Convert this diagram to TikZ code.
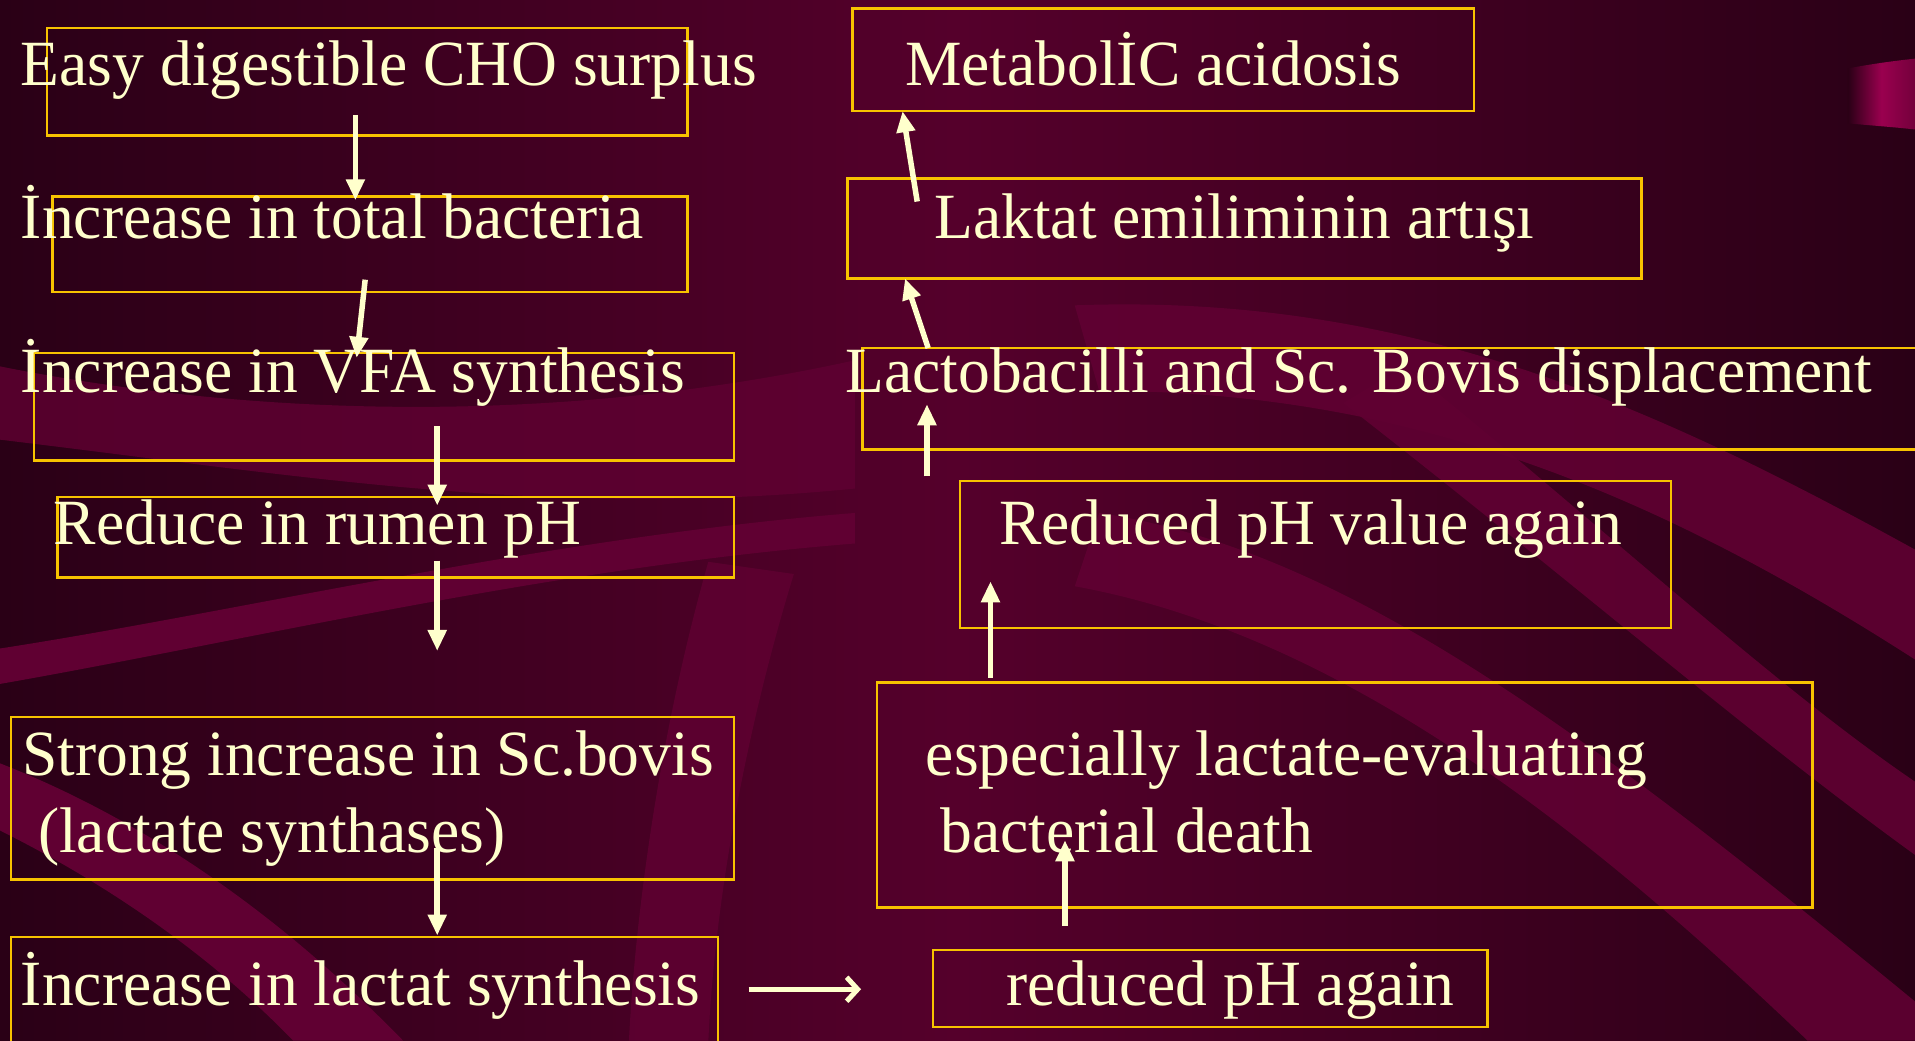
\documentclass[tikz,border=0pt]{standalone}
\usepackage{fontspec}
\setmainfont{Liberation Serif}[FakeStretch=0.985]
\usetikzlibrary{arrows.meta,fit}
\definecolor{bgdark}{HTML}{2A0016}
\definecolor{bgmid}{HTML}{55002B}
\definecolor{band}{HTML}{600032}
\definecolor{gold}{HTML}{F7C300}
\definecolor{cream}{HTML}{FFFFCC}
\definecolor{curl}{HTML}{9A004F}
\tikzset{
  box/.style={draw=gold, line width=2.5pt, inner sep=0pt},
  lbl/.style={text=cream, anchor=base west, inner sep=0pt, font=\fontsize{64.5}{77}\selectfont},
  arr/.style={draw=cream, line width=5.5pt, -{Triangle[length=21pt,width=18pt]}},
  barb/.style={draw=cream, line width=5.5pt, -{Straight Barb[length=11pt,width=24pt,line width=5pt]}},
  bandfill/.style={fill=band},
}
\begin{document}
\begin{tikzpicture}[x=1.2213pt,y=-1.2213pt]
\useasboundingbox (0,0) rectangle (1568,852);
% background
\shade[left color=bgdark, right color=bgdark, middle color=bgmid] (0,0) rectangle (1568,852);
\fill[bandfill, opacity=0.8] (0,300) .. controls (200,340) and (450,350) .. (700,295) -- (700,400) .. controls (450,425) and (250,390) .. (0,360) -- cycle;
\fill[bandfill] (0,531) .. controls (200,500) and (450,440) .. (700,420) -- (700,445) .. controls (450,465) and (200,525) .. (0,560) -- cycle;
\fill[bandfill] (0,680) .. controls (100,730) and (180,790) .. (240,852) -- (330,852) .. controls (250,770) and (140,680) .. (0,625) -- cycle;
\fill[bandfill, opacity=0.8] (580,460) .. controls (540,600) and (520,750) .. (515,852) -- (580,852) .. controls (585,740) and (610,600) .. (650,470) -- cycle;
\fill[bandfill, opacity=0.9] (880,250) .. controls (1150,240) and (1350,330) .. (1568,450) -- (1568,540) .. controls (1350,400) and (1150,320) .. (900,320) -- cycle;
\fill[bandfill, opacity=0.9] (900,420) .. controls (1100,450) and (1300,600) .. (1568,820) -- (1568,852) -- (1480,852) .. controls (1300,680) and (1100,520) .. (880,480) -- cycle;
\fill[bandfill, opacity=0.9] (1150,300) .. controls (1300,420) and (1450,560) .. (1568,640) -- (1568,700) .. controls (1430,600) and (1280,470) .. (1100,330) -- cycle;
% curl
\shade[left color=bgdark, right color=curl!75!black, middle color=curl] (1513,56) .. controls (1535,52) and (1550,50) .. (1568,48) -- (1568,106) .. controls (1550,104) and (1535,103) .. (1513,101) -- cycle;
% boxes
\node[box, fit={(38.5,23) (563,111)}] (bA) {};
\node[box, fit={(43,161) (563,239)}] (bB) {};
\node[box, fit={(28,289) (601,377)}] (bC) {};
\node[box, fit={(47,407) (601,473)}] (bD) {};
\node[box, fit={(9,587) (601,720)}] (bE) {};
\node[box, fit={(9,767) (588,858)}] (bF) {};
\node[box, fit={(764,778) (1218,841)}] (bG) {};
\node[box, fit={(718,559) (1484,743)}] (bH) {};
\node[box, fit={(786,394) (1368,514)}] (bI) {};
\node[box, fit={(706,285) (1580,368)}] (bJ) {};
\node[box, fit={(694,146) (1344,228)}] (bK) {};
\node[box, fit={(698,7) (1207,91)}] (bL) {};
% texts
\node[lbl] (tA) at (17,70) {Easy digestible CHO surplus};
\node[lbl] (tB) at (17,195) {İncrease in total bacteria};
\node[lbl] (tC) at (17,321) {İncrease in VFA synthesis};
\node[lbl] (tD) at (44,446) {Reduce in rumen pH};
\node[lbl] (tE1) at (18,635) {Strong increase in Sc.bovis};
\node[lbl] (tE2) at (31,698) {(lactate synthases)};
\node[lbl] (tF) at (17,823) {İncrease in lactat synthesis};
\node[lbl] (tG) at (824,823) {reduced pH again};
\node[lbl] (tH1) at (758,635) {especially lactate-evaluating};
\node[lbl] (tH2) at (770,698) {bacterial death};
\node[lbl] (tI) at (818,446) {Reduced pH value again};
\node[lbl] (tJ) at (692,321) {Lactobacilli and Sc. Bovis displacement};
\node[lbl] (tK) at (765,195) {Laktat emiliminin artışı};
\node[lbl] (tL) at (741,70) {MetabolİC acidosis};
% arrow end points
\coordinate (a1s) at (291,94);   \coordinate (a1e) at (291,164);
\coordinate (a2s) at (299,229);  \coordinate (a2e) at (292,293);
\coordinate (a3s) at (358,349);  \coordinate (a3e) at (358,414);
\coordinate (a4s) at (358,459);  \coordinate (a4e) at (358,533);
\coordinate (a5s) at (358,694);  \coordinate (a5e) at (358,766);
\coordinate (a6s) at (613,810);  \coordinate (a6e) at (705,810);
\coordinate (a7s) at (872,758);  \coordinate (a7e) at (872,688);
\coordinate (a8s) at (811,555);  \coordinate (a8e) at (811,476);
\coordinate (a9s) at (759,390);  \coordinate (a9e) at (759,331);
\coordinate (a10s) at (760,285); \coordinate (a10e) at (741,228);
\coordinate (a11s) at (751,165); \coordinate (a11e) at (739,91);
% arrows
\draw[arr] (a1s) -- (a1e);
\draw[arr] (a2s) -- (a2e);
\draw[arr] (a3s) -- (a3e);
\draw[arr] (a4s) -- (a4e);
\draw[arr] (a5s) -- (a5e);
\draw[barb] (a6s) -- (a6e);
\draw[arr] (a7s) -- (a7e);
\draw[arr] (a8s) -- (a8e);
\draw[arr] (a9s) -- (a9e);
\draw[arr] (a10s) -- (a10e);
\draw[arr] (a11s) -- (a11e);
\end{tikzpicture}
\end{document}
